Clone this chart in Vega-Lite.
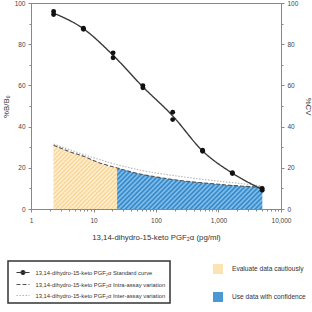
{
  "$schema": "https://vega.github.io/schema/vega-lite/v6.json",
  "width": 250,
  "height": 206,
  "autosize": "none",
  "padding": {"left": 31, "top": 3, "right": 31, "bottom": 103},
  "config": {
    "view": {"stroke": "#888", "strokeWidth": 1},
    "font": "Liberation Sans",
    "axis": {"domainColor": "#888", "tickColor": "#888", "labelColor": "#444", "titleColor": "#333", "labelFontSize": 6.5, "titleFontSize": 7.8, "titleFontWeight": "normal", "grid": false, "labelFont": "Liberation Sans", "titleFont": "Liberation Sans"}
  },
  "datasets": {
    "pts": [
      {"conc": 2.3, "bb0": 95.9}, {"conc": 2.3, "bb0": 94.4},
      {"conc": 6.9, "bb0": 87.8}, {"conc": 6.9, "bb0": 87.2},
      {"conc": 20.6, "bb0": 75.8}, {"conc": 20.6, "bb0": 73.4},
      {"conc": 61.7, "bb0": 59.9}, {"conc": 61.7, "bb0": 58.8},
      {"conc": 185, "bb0": 47.0}, {"conc": 185, "bb0": 43.4},
      {"conc": 556, "bb0": 28.5}, {"conc": 556, "bb0": 28.0},
      {"conc": 1667, "bb0": 17.6}, {"conc": 1667, "bb0": 17.2},
      {"conc": 5000, "bb0": 10.0}, {"conc": 5000, "bb0": 9.1}
    ],
    "curve": [
      {"series": "13,14-dihydro-15-keto PGF₂α Standard curve", "conc": 2.3, "bb0": 95.1},
      {"series": "13,14-dihydro-15-keto PGF₂α Standard curve", "conc": 6.9, "bb0": 87.5},
      {"series": "13,14-dihydro-15-keto PGF₂α Standard curve", "conc": 20.6, "bb0": 74.6},
      {"series": "13,14-dihydro-15-keto PGF₂α Standard curve", "conc": 61.7, "bb0": 59.3},
      {"series": "13,14-dihydro-15-keto PGF₂α Standard curve", "conc": 185, "bb0": 45.2},
      {"series": "13,14-dihydro-15-keto PGF₂α Standard curve", "conc": 556, "bb0": 28.2},
      {"series": "13,14-dihydro-15-keto PGF₂α Standard curve", "conc": 1667, "bb0": 17.4},
      {"series": "13,14-dihydro-15-keto PGF₂α Standard curve", "conc": 5000, "bb0": 9.5}
    ],
    "cvlines": [
      {"series": "13,14-dihydro-15-keto PGF₂α Intra-assay variation", "conc": 2.3, "cv": 31.0},
      {"series": "13,14-dihydro-15-keto PGF₂α Intra-assay variation", "conc": 4, "cv": 28.0},
      {"series": "13,14-dihydro-15-keto PGF₂α Intra-assay variation", "conc": 6.9, "cv": 25.6},
      {"series": "13,14-dihydro-15-keto PGF₂α Intra-assay variation", "conc": 12, "cv": 22.6},
      {"series": "13,14-dihydro-15-keto PGF₂α Intra-assay variation", "conc": 24, "cv": 19.9},
      {"series": "13,14-dihydro-15-keto PGF₂α Intra-assay variation", "conc": 40, "cv": 18.0},
      {"series": "13,14-dihydro-15-keto PGF₂α Intra-assay variation", "conc": 62, "cv": 16.7},
      {"series": "13,14-dihydro-15-keto PGF₂α Intra-assay variation", "conc": 120, "cv": 15.2},
      {"series": "13,14-dihydro-15-keto PGF₂α Intra-assay variation", "conc": 185, "cv": 14.3},
      {"series": "13,14-dihydro-15-keto PGF₂α Intra-assay variation", "conc": 300, "cv": 13.5},
      {"series": "13,14-dihydro-15-keto PGF₂α Intra-assay variation", "conc": 556, "cv": 12.7},
      {"series": "13,14-dihydro-15-keto PGF₂α Intra-assay variation", "conc": 1000, "cv": 12.0},
      {"series": "13,14-dihydro-15-keto PGF₂α Intra-assay variation", "conc": 1667, "cv": 11.4},
      {"series": "13,14-dihydro-15-keto PGF₂α Intra-assay variation", "conc": 5000, "cv": 10.6},
      {"series": "13,14-dihydro-15-keto PGF₂α Inter-assay variation", "conc": 2.3, "cv": 31.5},
      {"series": "13,14-dihydro-15-keto PGF₂α Inter-assay variation", "conc": 6.9, "cv": 26.5},
      {"series": "13,14-dihydro-15-keto PGF₂α Inter-assay variation", "conc": 24, "cv": 21.5},
      {"series": "13,14-dihydro-15-keto PGF₂α Inter-assay variation", "conc": 62, "cv": 18.6},
      {"series": "13,14-dihydro-15-keto PGF₂α Inter-assay variation", "conc": 185, "cv": 16.3},
      {"series": "13,14-dihydro-15-keto PGF₂α Inter-assay variation", "conc": 556, "cv": 14.4},
      {"series": "13,14-dihydro-15-keto PGF₂α Inter-assay variation", "conc": 1667, "cv": 12.8},
      {"series": "13,14-dihydro-15-keto PGF₂α Inter-assay variation", "conc": 5000, "cv": 11.2}
    ],
    "zones": [
      {"zone": "Evaluate data cautiously", "conc": 2.3, "cv": 31.0},
      {"zone": "Evaluate data cautiously", "conc": 4, "cv": 28.0},
      {"zone": "Evaluate data cautiously", "conc": 6.9, "cv": 25.6},
      {"zone": "Evaluate data cautiously", "conc": 12, "cv": 22.6},
      {"zone": "Evaluate data cautiously", "conc": 24, "cv": 19.9},
      {"zone": "Use data with confidence", "conc": 24, "cv": 19.9},
      {"zone": "Use data with confidence", "conc": 40, "cv": 18.0},
      {"zone": "Use data with confidence", "conc": 62, "cv": 16.7},
      {"zone": "Use data with confidence", "conc": 120, "cv": 15.2},
      {"zone": "Use data with confidence", "conc": 185, "cv": 14.3},
      {"zone": "Use data with confidence", "conc": 300, "cv": 13.5},
      {"zone": "Use data with confidence", "conc": 556, "cv": 12.7},
      {"zone": "Use data with confidence", "conc": 1000, "cv": 12.0},
      {"zone": "Use data with confidence", "conc": 1667, "cv": 11.4},
      {"zone": "Use data with confidence", "conc": 5000, "cv": 10.6}
    ]
  },
  "encoding": {
    "x": {
      "field": "conc", "type": "quantitative",
      "scale": {"type": "log", "domain": [1, 10000], "nice": false},
      "axis": {
        "title": "13,14-dihydro-15-keto PGF₂α (pg/ml)",
        "values": [1,2,3,4,5,6,7,8,9,10,20,30,40,50,60,70,80,90,100,200,300,400,500,600,700,800,900,1000,2000,3000,4000,5000,6000,7000,8000,9000,10000],
        "labelExpr": "(datum.value == 1 || datum.value == 10 || datum.value == 100 || datum.value == 1000 || datum.value == 10000) ? format(datum.value, ',') : ''",
        "tickSize": {"condition": {"test": "datum.value == 1 || datum.value == 10 || datum.value == 100 || datum.value == 1000 || datum.value == 10000", "value": 3}, "value": 2},
        "labelPadding": 5, "titlePadding": 10, "labelFlush": false, "labelOverlap": false
      }
    }
  },
  "resolve": {"scale": {"y": "independent"}},
  "layer": [
    {
      "encoding": {
        "y": {
          "field": "cv", "type": "quantitative", "stack": null,
          "scale": {"domain": [0, 100], "nice": false},
          "axis": {
            "orient": "right", "title": "%CV",
            "values": [0,10,20,30,40,50,60,70,80,90,100],
            "labelExpr": "datum.value % 20 == 0 ? datum.value : ''",
            "tickSize": {"condition": {"test": "datum.value % 20 == 0", "value": 3}, "value": 2},
            "labelPadding": 3, "titlePadding": 6, "labelFlush": false
          }
        }
      },
      "layer": [
        {
          "data": {"name": "zones"},
          "mark": {"type": "area", "interpolate": "monotone"},
          "encoding": {
            "fill": {
              "field": "zone", "type": "nominal",
              "scale": {"domain": ["Evaluate data cautiously", "Use data with confidence"], "range": ["#fce3b4", "#4a98d4"]},
              "legend": {
                "title": null, "orient": "none", "legendX": 182, "legendY": 261,
                "padding": 0, "symbolType": "square", "symbolSize": 100, "rowPadding": 18,
                "labelOffset": 9, "labelFontSize": 6.6, "labelColor": "#333", "labelFont": "Liberation Sans", "labelLimit": 300,
                "encode": {
                  "symbols": {
                    "update": {
                      "fill": {"signal": "indexof(datum.value, 'Evaluate') >= 0 ? {gradient: 'linear', x1: 0, y1: 0, x2: 1, y2: 1, stops: [{offset: 0, color: '#fff3dc'}, {offset: 0.1667, color: '#f9d28c'}, {offset: 0.3333, color: '#fff3dc'}, {offset: 0.5, color: '#f9d28c'}, {offset: 0.6667, color: '#fff3dc'}, {offset: 0.8333, color: '#f9d28c'}, {offset: 1, color: '#fff3dc'}]} : {gradient: 'linear', x1: 0, y1: 0, x2: 1, y2: 1, stops: [{offset: 0, color: '#8cc6ee'}, {offset: 0.1667, color: '#2a80c4'}, {offset: 0.3333, color: '#8cc6ee'}, {offset: 0.5, color: '#2a80c4'}, {offset: 0.6667, color: '#8cc6ee'}, {offset: 0.8333, color: '#2a80c4'}, {offset: 1, color: '#8cc6ee'}]}"},
                      "strokeWidth": {"value": 0},
                      "opacity": {"value": 1},
                      "fillOpacity": {"value": 1}
                    }
                  }
                }
              }
            }
          }
        },
        {
          "data": {"name": "zones"},
          "transform": [{"filter": "datum.zone == 'Evaluate data cautiously'"}],
          "mark": {
            "type": "area", "interpolate": "monotone",
            "fill": {"gradient": "linear", "x1": 0, "y1": 0, "x2": 1, "y2": 1, "stops": [
              {"offset": 0, "color": "#fff3dc"}, {"offset": 0.0167, "color": "#f9d28c"}, {"offset": 0.0333, "color": "#fff3dc"}, {"offset": 0.05, "color": "#f9d28c"}, {"offset": 0.0667, "color": "#fff3dc"}, {"offset": 0.0833, "color": "#f9d28c"},
              {"offset": 0.1, "color": "#fff3dc"}, {"offset": 0.1167, "color": "#f9d28c"}, {"offset": 0.1333, "color": "#fff3dc"}, {"offset": 0.15, "color": "#f9d28c"}, {"offset": 0.1667, "color": "#fff3dc"}, {"offset": 0.1833, "color": "#f9d28c"},
              {"offset": 0.2, "color": "#fff3dc"}, {"offset": 0.2167, "color": "#f9d28c"}, {"offset": 0.2333, "color": "#fff3dc"}, {"offset": 0.25, "color": "#f9d28c"}, {"offset": 0.2667, "color": "#fff3dc"}, {"offset": 0.2833, "color": "#f9d28c"},
              {"offset": 0.3, "color": "#fff3dc"}, {"offset": 0.3167, "color": "#f9d28c"}, {"offset": 0.3333, "color": "#fff3dc"}, {"offset": 0.35, "color": "#f9d28c"}, {"offset": 0.3667, "color": "#fff3dc"}, {"offset": 0.3833, "color": "#f9d28c"},
              {"offset": 0.4, "color": "#fff3dc"}, {"offset": 0.4167, "color": "#f9d28c"}, {"offset": 0.4333, "color": "#fff3dc"}, {"offset": 0.45, "color": "#f9d28c"}, {"offset": 0.4667, "color": "#fff3dc"}, {"offset": 0.4833, "color": "#f9d28c"},
              {"offset": 0.5, "color": "#fff3dc"}, {"offset": 0.5167, "color": "#f9d28c"}, {"offset": 0.5333, "color": "#fff3dc"}, {"offset": 0.55, "color": "#f9d28c"}, {"offset": 0.5667, "color": "#fff3dc"}, {"offset": 0.5833, "color": "#f9d28c"},
              {"offset": 0.6, "color": "#fff3dc"}, {"offset": 0.6167, "color": "#f9d28c"}, {"offset": 0.6333, "color": "#fff3dc"}, {"offset": 0.65, "color": "#f9d28c"}, {"offset": 0.6667, "color": "#fff3dc"}, {"offset": 0.6833, "color": "#f9d28c"},
              {"offset": 0.7, "color": "#fff3dc"}, {"offset": 0.7167, "color": "#f9d28c"}, {"offset": 0.7333, "color": "#fff3dc"}, {"offset": 0.75, "color": "#f9d28c"}, {"offset": 0.7667, "color": "#fff3dc"}, {"offset": 0.7833, "color": "#f9d28c"},
              {"offset": 0.8, "color": "#fff3dc"}, {"offset": 0.8167, "color": "#f9d28c"}, {"offset": 0.8333, "color": "#fff3dc"}, {"offset": 0.85, "color": "#f9d28c"}, {"offset": 0.8667, "color": "#fff3dc"}, {"offset": 0.8833, "color": "#f9d28c"},
              {"offset": 0.9, "color": "#fff3dc"}, {"offset": 0.9167, "color": "#f9d28c"}, {"offset": 0.9333, "color": "#fff3dc"}, {"offset": 0.95, "color": "#f9d28c"}, {"offset": 0.9667, "color": "#fff3dc"}, {"offset": 0.9833, "color": "#f9d28c"},
              {"offset": 1, "color": "#fff3dc"}
            ]}
          },
          "encoding": {}
        },
        {
          "data": {"name": "zones"},
          "transform": [{"filter": "datum.zone == 'Use data with confidence'"}],
          "mark": {
            "type": "area", "interpolate": "monotone",
            "fill": {"gradient": "linear", "x1": 0, "y1": 0, "x2": 1.187, "y2": 0.332, "stops": [
              {"offset": 0, "color": "#8cc6ee"}, {"offset": 0.0125, "color": "#2a80c4"}, {"offset": 0.025, "color": "#8cc6ee"}, {"offset": 0.0375, "color": "#2a80c4"}, {"offset": 0.05, "color": "#8cc6ee"}, {"offset": 0.0625, "color": "#2a80c4"}, {"offset": 0.075, "color": "#8cc6ee"}, {"offset": 0.0875, "color": "#2a80c4"},
              {"offset": 0.1, "color": "#8cc6ee"}, {"offset": 0.1125, "color": "#2a80c4"}, {"offset": 0.125, "color": "#8cc6ee"}, {"offset": 0.1375, "color": "#2a80c4"}, {"offset": 0.15, "color": "#8cc6ee"}, {"offset": 0.1625, "color": "#2a80c4"}, {"offset": 0.175, "color": "#8cc6ee"}, {"offset": 0.1875, "color": "#2a80c4"},
              {"offset": 0.2, "color": "#8cc6ee"}, {"offset": 0.2125, "color": "#2a80c4"}, {"offset": 0.225, "color": "#8cc6ee"}, {"offset": 0.2375, "color": "#2a80c4"}, {"offset": 0.25, "color": "#8cc6ee"}, {"offset": 0.2625, "color": "#2a80c4"}, {"offset": 0.275, "color": "#8cc6ee"}, {"offset": 0.2875, "color": "#2a80c4"},
              {"offset": 0.3, "color": "#8cc6ee"}, {"offset": 0.3125, "color": "#2a80c4"}, {"offset": 0.325, "color": "#8cc6ee"}, {"offset": 0.3375, "color": "#2a80c4"}, {"offset": 0.35, "color": "#8cc6ee"}, {"offset": 0.3625, "color": "#2a80c4"}, {"offset": 0.375, "color": "#8cc6ee"}, {"offset": 0.3875, "color": "#2a80c4"},
              {"offset": 0.4, "color": "#8cc6ee"}, {"offset": 0.4125, "color": "#2a80c4"}, {"offset": 0.425, "color": "#8cc6ee"}, {"offset": 0.4375, "color": "#2a80c4"}, {"offset": 0.45, "color": "#8cc6ee"}, {"offset": 0.4625, "color": "#2a80c4"}, {"offset": 0.475, "color": "#8cc6ee"}, {"offset": 0.4875, "color": "#2a80c4"},
              {"offset": 0.5, "color": "#8cc6ee"}, {"offset": 0.5125, "color": "#2a80c4"}, {"offset": 0.525, "color": "#8cc6ee"}, {"offset": 0.5375, "color": "#2a80c4"}, {"offset": 0.55, "color": "#8cc6ee"}, {"offset": 0.5625, "color": "#2a80c4"}, {"offset": 0.575, "color": "#8cc6ee"}, {"offset": 0.5875, "color": "#2a80c4"},
              {"offset": 0.6, "color": "#8cc6ee"}, {"offset": 0.6125, "color": "#2a80c4"}, {"offset": 0.625, "color": "#8cc6ee"}, {"offset": 0.6375, "color": "#2a80c4"}, {"offset": 0.65, "color": "#8cc6ee"}, {"offset": 0.6625, "color": "#2a80c4"}, {"offset": 0.675, "color": "#8cc6ee"}, {"offset": 0.6875, "color": "#2a80c4"},
              {"offset": 0.7, "color": "#8cc6ee"}, {"offset": 0.7125, "color": "#2a80c4"}, {"offset": 0.725, "color": "#8cc6ee"}, {"offset": 0.7375, "color": "#2a80c4"}, {"offset": 0.75, "color": "#8cc6ee"}, {"offset": 0.7625, "color": "#2a80c4"}, {"offset": 0.775, "color": "#8cc6ee"}, {"offset": 0.7875, "color": "#2a80c4"},
              {"offset": 0.8, "color": "#8cc6ee"}, {"offset": 0.8125, "color": "#2a80c4"}, {"offset": 0.825, "color": "#8cc6ee"}, {"offset": 0.8375, "color": "#2a80c4"}, {"offset": 0.85, "color": "#8cc6ee"}, {"offset": 0.8625, "color": "#2a80c4"}, {"offset": 0.875, "color": "#8cc6ee"}, {"offset": 0.8875, "color": "#2a80c4"},
              {"offset": 0.9, "color": "#8cc6ee"}, {"offset": 0.9125, "color": "#2a80c4"}, {"offset": 0.925, "color": "#8cc6ee"}, {"offset": 0.9375, "color": "#2a80c4"}, {"offset": 0.95, "color": "#8cc6ee"}, {"offset": 0.9625, "color": "#2a80c4"}, {"offset": 0.975, "color": "#8cc6ee"}, {"offset": 0.9875, "color": "#2a80c4"},
              {"offset": 1, "color": "#8cc6ee"}
            ]}
          },
          "encoding": {}
        },
        {
          "data": {"name": "cvlines"},
          "mark": {"type": "line", "interpolate": "monotone", "strokeWidth": 1.1},
          "encoding": {
            "stroke": {"field": "series", "type": "nominal"},
            "strokeDash": {"field": "series", "type": "nominal"}
          }
        }
      ]
    },
    {
      "encoding": {
        "y": {
          "field": "bb0", "type": "quantitative",
          "scale": {"domain": [0, 100], "nice": false},
          "axis": {
            "orient": "left", "title": "%B/B₀",
            "values": [0,10,20,30,40,50,60,70,80,90,100],
            "labelExpr": "datum.value % 20 == 0 ? datum.value : ''",
            "tickSize": {"condition": {"test": "datum.value % 20 == 0", "value": 3}, "value": 2},
            "labelPadding": 3, "titlePadding": 4, "labelFlush": false
          }
        }
      },
      "layer": [
        {
          "data": {"name": "curve"},
          "mark": {"type": "line", "interpolate": "monotone", "strokeWidth": 1.4},
          "encoding": {
            "stroke": {
              "field": "series", "type": "nominal",
              "scale": {"domain": ["13,14-dihydro-15-keto PGF₂α Standard curve", "13,14-dihydro-15-keto PGF₂α Intra-assay variation", "13,14-dihydro-15-keto PGF₂α Inter-assay variation"], "range": ["#3a3a3a", "#555555", "#b5b5b5"]},
              "legend": {
                "title": null, "orient": "none", "legendX": -23, "legendY": 258,
                "padding": 4, "strokeColor": "#333", "symbolSize": 169, "rowPadding": 0, "symbolOffset": 3.5,
                "labelOffset": 5, "labelFontSize": 5.8, "labelColor": "#333", "labelFont": "Liberation Sans", "labelLimit": 300,
                "encode": {
                  "legend": {"update": {"strokeWidth": {"value": 1.5}}},
                  "symbols": {
                    "update": {
                      "shape": {"signal": "indexof(datum.value, 'Standard') >= 0 ? 'M-1,0H1M-0.3,0a0.3,0.3 0 1,0 0.6,0a0.3,0.3 0 1,0 -0.6,0' : 'M-1,0H1'"},
                      "fill": {"signal": "indexof(datum.value, 'Standard') >= 0 ? '#111' : 'transparent'"},
                      "strokeWidth": {"value": 1.2}
                    }
                  }
                }
              }
            },
            "strokeDash": {
              "field": "series", "type": "nominal",
              "scale": {"domain": ["13,14-dihydro-15-keto PGF₂α Standard curve", "13,14-dihydro-15-keto PGF₂α Intra-assay variation", "13,14-dihydro-15-keto PGF₂α Inter-assay variation"], "range": [[1, 0], [4, 2], [1.5, 1.5]]}
            }
          }
        },
        {
          "data": {"name": "pts"},
          "mark": {"type": "circle", "size": 24, "color": "#111", "opacity": 1},
          "encoding": {}
        }
      ]
    }
  ]
}
